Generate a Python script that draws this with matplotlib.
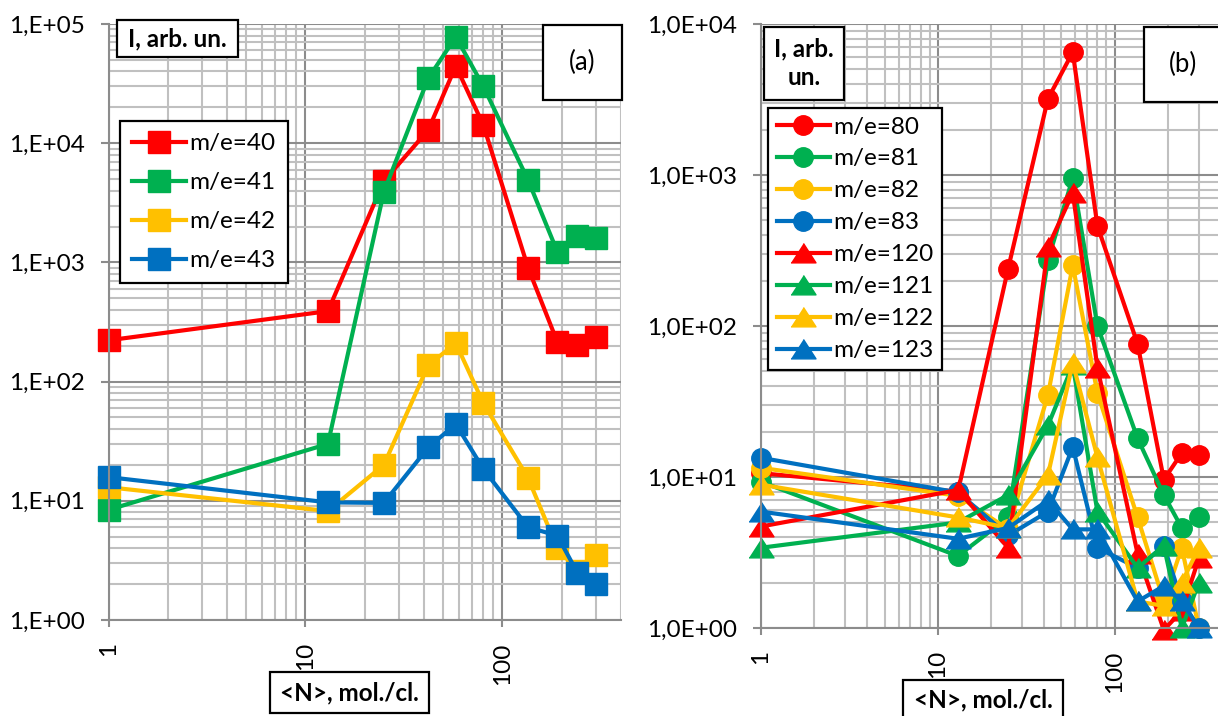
import numpy as np
import matplotlib
matplotlib.use('Agg')
import matplotlib.pyplot as plt
from matplotlib import ticker
from matplotlib.patches import Rectangle

plt.rcParams['font.family'] = ['Lato', 'DejaVu Sans']

# cluster size <N> (same for both panels)
n_mol = [1, 13, 25, 42, 58, 80, 135, 190, 240, 300]

# panel (a), m/e = 40..43
me40 = [222, 390, 4800, 12900, 44500, 14200, 900, 215, 204, 235]
me41 = [8.4, 30, 3900, 35000, 78000, 30000, 4900, 1230, 1660, 1600]
me42 = [13, 8.2, 20, 137, 210, 66, 15.5, 4.0, 2.6, 3.5]
me43 = [15.8, 9.7, 9.6, 28, 44, 18.5, 6.0, 5.1, 2.5, 2.0]

# panel (b), m/e = 80..83 (circles) and 120..123 (triangles)
me80 = [10.6, 8.0, 240, 3200, 6500, 460, 76, 9.6, 14.4, 14]
me81 = [9.3, 3.0, 5.4, 273, 955, 100, 18, 7.6, 4.6, 5.4]
me82 = [11.5, 7.5, 4.5, 35, 252, 36, 5.4, 1.5, 3.4, 1.0]
me83 = [13.4, 7.9, 4.1, 5.9, 15.8, 3.4, 2.5, 3.5, 1.5, 1.0]
me120 = [4.7, 8.2, 3.4, 333, 760, 53, 3.1, 0.97, 1.3, 2.9]
me121 = [3.4, 5.0, 7.6, 22, 55, 5.9, 2.5, 3.5, 1.0, 2.0]
me122 = [8.9, 5.4, 4.6, 10.3, 57, 13.5, 1.5, 1.4, 2.0, 3.4]
me123 = [5.9, 3.9, 4.6, 7.0, 4.5, 4.5, 1.5, 1.9, 1.5, 1.0]

RED, GREEN, YELLOW, BLUE = '#FF0000', '#00B050', '#FFC000', '#0070C0'
FS = 17.5

W, H = 1218, 716
fig = plt.figure(figsize=(W / 100, H / 100), dpi=100)


def fr(x0, y0, x1, y1):
    return [x0 / W, 1 - y1 / H, (x1 - x0) / W, (y1 - y0) / H]


def box(x0, y0, x1, y1, text, size=FS, weight='normal'):
    fig.patches.append(Rectangle((x0 / W, 1 - y1 / H), (x1 - x0) / W, (y1 - y0) / H,
                                 transform=fig.transFigure, fc='white', ec='black',
                                 lw=1.6, zorder=5))
    fig.text((x0 + x1) / 2 / W, 1 - (y0 + y1) / 2 / H, text, ha='center', va='center',
             fontsize=size, fontweight=weight, zorder=6, linespacing=1.3)


def setup(ax, ylo, yhi, fmt):
    ax.set_xscale('log')
    ax.set_yscale('log')
    ax.set_xlim(1, 400)
    ax.set_ylim(ylo, yhi)
    ax.xaxis.set_major_locator(ticker.FixedLocator([1, 10, 100]))
    ax.xaxis.set_minor_locator(ticker.LogLocator(base=10, subs=np.arange(2, 10), numticks=20))
    ax.yaxis.set_major_locator(ticker.LogLocator(base=10, numticks=20))
    ax.yaxis.set_minor_locator(ticker.LogLocator(base=10, subs=np.arange(2, 10), numticks=20))
    ax.xaxis.set_minor_formatter(ticker.NullFormatter())
    ax.yaxis.set_minor_formatter(ticker.NullFormatter())
    ax.xaxis.set_major_formatter(ticker.FuncFormatter(lambda v, p: '%d' % round(v)))
    ax.yaxis.set_major_formatter(ticker.FuncFormatter(lambda v, p: fmt % round(np.log10(v))))
    ax.grid(which='minor', color='#C0C0C0', lw=1.5)
    ax.grid(which='major', color='#8C8C8C', lw=1.5)
    ax.set_axisbelow(True)
    for s in ['top', 'right']:
        ax.spines[s].set_visible(False)
    for s in ['left', 'bottom']:
        ax.spines[s].set_color('#8C8C8C')
        ax.spines[s].set_linewidth(1.5)
    ax.tick_params(which='minor', length=0)
    ax.tick_params(axis='y', which='major', length=6, width=1.5, color='#8C8C8C',
                   labelsize=FS, pad=11)
    ax.tick_params(axis='x', which='major', length=5, width=1.5, color='#8C8C8C',
                   labelsize=FS, pad=11, labelrotation=90)
    for lab in ax.get_xticklabels():
        lab.set_va('top')


# ---- panel (a)
ax_a = fig.add_axes(fr(108.5, 24, 621, 620))
setup(ax_a, 1, 1e5, '1,E+%02d')
for vals, col, lab in [(me40, RED, 'm/e=40'), (me41, GREEN, 'm/e=41'),
                       (me42, YELLOW, 'm/e=42'), (me43, BLUE, 'm/e=43')]:
    ax_a.plot(n_mol, vals, color=col, lw=3, marker='s', markersize=16, label=lab, clip_on=False)
leg = ax_a.legend(loc='upper left', bbox_to_anchor=(120 / W, 1 - 121 / H), bbox_transform=fig.transFigure,
                  fancybox=False, edgecolor='black', framealpha=1, fontsize=FS, borderaxespad=0,
                  handlelength=2.2, handletextpad=0.15, labelspacing=0.74, borderpad=0.5)
leg.get_frame().set_linewidth(1.6)

# ---- panel (b)
tri = [(-1, -0.75), (1, -0.75), (0, 0.8)]
ax_b = fig.add_axes(fr(761, 24, 1221, 628))
setup(ax_b, 1, 1e4, '1,0E+%02d')
series_b = [(me80, RED, 'o', 'm/e=80'), (me81, GREEN, 'o', 'm/e=81'),
            (me82, YELLOW, 'o', 'm/e=82'), (me83, BLUE, 'o', 'm/e=83'),
            (me120, RED, tri, 'm/e=120'), (me121, GREEN, tri, 'm/e=121'),
            (me122, YELLOW, tri, 'm/e=122'), (me123, BLUE, tri, 'm/e=123')]
for vals, col, mk, lab in series_b:
    ms = 14 if mk == 'o' else 18
    ax_b.plot(n_mol, vals, color=col, lw=3, marker=mk, markersize=ms, label=lab, clip_on=False)
leg = ax_b.legend(loc='upper left', bbox_to_anchor=(768 / W, 1 - 108 / H), bbox_transform=fig.transFigure,
                  fancybox=False, edgecolor='black', framealpha=1, fontsize=FS, borderaxespad=0,
                  handlelength=2.2, handletextpad=0.15, labelspacing=0.45, borderpad=0.35)
leg.get_frame().set_linewidth(1.6)

# ---- text boxes
box(117, 20, 238, 57, 'I, arb. un.', weight='bold')
box(543, 25, 622, 100, '(a)', size=18.5)
box(270, 672, 429, 713, '<N>, mol./cl.', weight='bold')
box(764, 27, 844, 100, 'I, arb.\nun.', weight='bold')
box(1144, 27, 1222, 102, '(b)', size=18.5)
box(903, 680, 1063, 720, '<N>, mol./cl.', weight='bold')

fig.savefig('out.png', dpi=100)
